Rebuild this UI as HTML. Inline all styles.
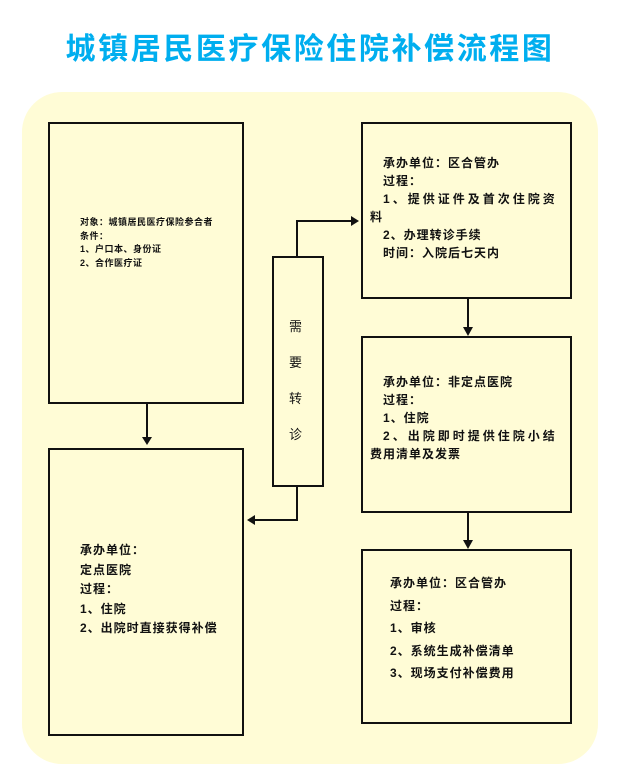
<!DOCTYPE html>
<html><head><meta charset="utf-8"><style>
body{margin:0;width:620px;height:780px;background:#fff;position:relative;overflow:hidden;font-family:"Liberation Sans","Noto Sans CJK SC",sans-serif;}
.t{position:absolute;left:0;width:620px;top:27px;text-align:center;color:#00aeef;font-size:30px;font-weight:bold;letter-spacing:2.6px;line-height:46px;}
.panel{position:absolute;left:22px;top:92px;width:576px;height:672px;background:#fffcd6;border-radius:40px;}
.b{position:absolute;border:2px solid #111;box-sizing:border-box;}
.tx{position:absolute;color:#111;white-space:nowrap;font-weight:bold;}
.sp{letter-spacing:3px}
svg{position:absolute;left:0;top:0;}
</style></head><body>
<div class="t">城镇居民医疗保险住院补偿流程图</div>
<div class="panel"></div>
<div class="b" style="left:48px;top:122px;width:196px;height:282px"></div>
<div class="b" style="left:48px;top:448px;width:196px;height:288px"></div>
<div class="b" style="left:272px;top:256px;width:52px;height:231px"></div>
<div class="b" style="left:361px;top:122px;width:211px;height:177px"></div>
<div class="b" style="left:361px;top:336px;width:211px;height:177px"></div>
<div class="b" style="left:361px;top:549px;width:211px;height:175px"></div>
<svg width="620" height="780">
<g stroke="#111" stroke-width="2" fill="none">
<line x1="147" y1="404" x2="147" y2="438"/>
<polyline points="297,256 297,221 352,221"/>
<polyline points="297,487 297,520 254,520"/>
<line x1="468" y1="299" x2="468" y2="328"/>
<line x1="468" y1="513" x2="468" y2="541"/>
</g>
<g fill="#111">
<polygon points="142,437 152,437 147,445"/>
<polygon points="351,216 351,226 359,221"/>
<polygon points="255,515 255,525 247,520"/>
<polygon points="463,327 473,327 468,336"/>
<polygon points="463,540 473,540 468,549"/>
</g>
</svg>
<div class="tx" style="left:80px;top:216px;font-size:9px;line-height:13.5px;letter-spacing:0.5px">对象：城镇居民医疗保险参合者<br>条件：<br>1、户口本、身份证<br>2、合作医疗证</div>
<div class="tx" style="left:289px;top:309px;font-size:13px;line-height:36px;font-weight:normal">需<br>要<br>转<br>诊</div>
<div class="tx" style="left:370px;top:154px;font-size:12px;line-height:18px;letter-spacing:1px">&nbsp;&nbsp;&nbsp;承办单位：区合管办<br>&nbsp;&nbsp;&nbsp;过程：<br>&nbsp;&nbsp;&nbsp;<span class="sp">1、提供证件及首次住院资</span><br>料<br>&nbsp;&nbsp;&nbsp;2、办理转诊手续<br>&nbsp;&nbsp;&nbsp;时间：入院后七天内</div>
<div class="tx" style="left:370px;top:373px;font-size:12px;line-height:18px;letter-spacing:1px">&nbsp;&nbsp;&nbsp;承办单位：非定点医院<br>&nbsp;&nbsp;&nbsp;过程：<br>&nbsp;&nbsp;&nbsp;1、住院<br>&nbsp;&nbsp;&nbsp;<span class="sp">2、出院即时提供住院小结</span><br>费用清单及发票</div>
<div class="tx" style="left:80px;top:541px;font-size:12px;line-height:19.5px;letter-spacing:1px">承办单位：<br>定点医院<br>过程：<br>1、住院<br>2、出院时直接获得补偿</div>
<div class="tx" style="left:390px;top:572px;font-size:12px;line-height:22.5px;letter-spacing:1px">承办单位：区合管办<br>过程：<br>1、审核<br>2、系统生成补偿清单<br>3、现场支付补偿费用</div>
</body></html>
